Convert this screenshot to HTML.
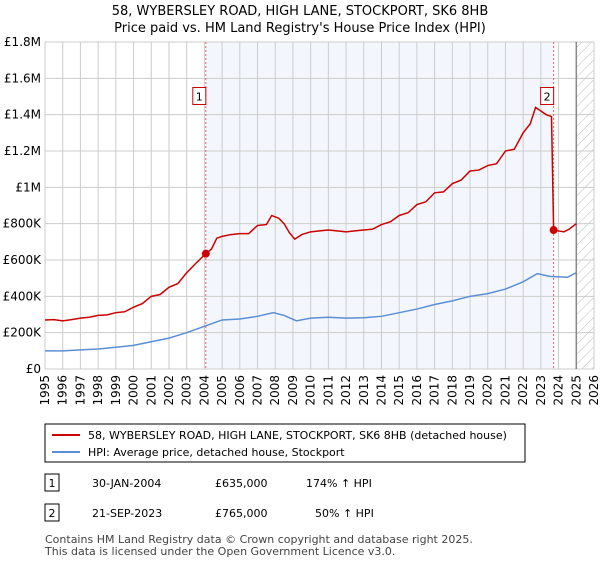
<!DOCTYPE html>
<html><head><meta charset="utf-8"><style>
body{margin:0;background:#fff;font-family:"Liberation Sans","DejaVu Sans",sans-serif;}
svg text{font-family:"DejaVu Sans","Liberation Sans",sans-serif;}
</style></head><body>
<svg width="600" height="560" xmlns="http://www.w3.org/2000/svg">
<defs><pattern id="hatch" width="7" height="7" patternUnits="userSpaceOnUse" patternTransform="rotate(45)"><line x1="0" y1="0" x2="0" y2="7" stroke="#bbb" stroke-width="1"/></pattern></defs>
<text x="300" y="15" text-anchor="middle" font-size="13">58, WYBERSLEY ROAD, HIGH LANE, STOCKPORT, SK6 8HB</text>
<text x="300" y="32" text-anchor="middle" font-size="13">Price paid vs. HM Land Registry's House Price Index (HPI)</text>
<g id="plot"></g>
<g id="legend">
<rect x="45" y="424" width="480" height="38" fill="#fff" stroke="#000" stroke-width="1"/>
<line x1="52" y1="435" x2="80" y2="435" stroke="#cc0000" stroke-width="2"/>
<text x="88" y="439" font-size="11">58, WYBERSLEY ROAD, HIGH LANE, STOCKPORT, SK6 8HB (detached house)</text>
<line x1="52" y1="452" x2="80" y2="452" stroke="#5a8fd6" stroke-width="2"/>
<text x="88" y="456" font-size="11">HPI: Average price, detached house, Stockport</text>
</g>
<g font-size="11">
<rect x="45" y="474" width="14" height="17" fill="#fff" stroke="#000"/><text x="52" y="487" text-anchor="middle">1</text>
<text x="92" y="487">30-JAN-2004</text><text x="215" y="487">£635,000</text><text x="306" y="487">174% ↑ HPI</text>
<rect x="45" y="504" width="14" height="17" fill="#fff" stroke="#000"/><text x="52" y="517" text-anchor="middle">2</text>
<text x="92" y="517">21-SEP-2023</text><text x="215" y="517">£765,000</text><text x="315" y="517">50% ↑ HPI</text>
</g>
<text x="45" y="543" font-size="11" fill="#444">Contains HM Land Registry data © Crown copyright and database right 2025.</text>
<text x="45" y="555" font-size="11" fill="#444">This data is licensed under the Open Government Licence v3.0.</text>
</svg>
<script>
const yTicks=[0,200000,400000,600000,800000,1000000,1200000,1400000,1600000,1800000];
const yTickLabels=["£0","£200K","£400K","£600K","£800K","£1M","£1.2M","£1.4M","£1.6M","£1.8M"];
const xYears=[1995,1996,1997,1998,1999,2000,2001,2002,2003,2004,2005,2006,2007,2008,2009,2010,2011,2012,2013,2014,2015,2016,2017,2018,2019,2020,2021,2022,2023,2024,2025,2026];
const redT=[1995,1995.5,1996,1996.5,1997,1997.5,1998,1998.5,1999,1999.5,2000,2000.5,2001,2001.5,2002,2002.5,2003,2003.5,2004.08,2004.4,2004.7,2005,2005.5,2006,2006.5,2007,2007.5,2007.8,2008.2,2008.5,2008.8,2009.1,2009.5,2010,2010.5,2011,2011.5,2012,2012.5,2013,2013.5,2014,2014.5,2015,2015.5,2016,2016.5,2017,2017.5,2018,2018.5,2019,2019.5,2020,2020.5,2021,2021.5,2022,2022.4,2022.7,2023,2023.3,2023.6,2023.72,2024,2024.3,2024.6,2025];
const redV=[270,272,265,272,280,285,295,298,310,315,340,360,400,410,450,470,530,580,635,660,720,730,740,745,745,790,795,845,830,800,750,715,740,755,760,765,760,755,760,765,770,795,810,845,860,905,920,970,975,1020,1040,1090,1095,1120,1130,1200,1210,1300,1350,1440,1420,1400,1390,765,760,755,770,800];
const blueT=[1995,1996,1997,1998,1999,2000,2001,2002,2003,2004,2005,2006,2007,2007.9,2008.5,2009.2,2010,2011,2012,2013,2014,2015,2016,2017,2018,2019,2020,2021,2022,2022.8,2023.5,2024.5,2025];
const blueV=[100,100,105,110,120,130,150,170,200,235,270,275,290,310,295,265,280,285,280,282,290,310,330,355,375,400,415,440,480,525,510,505,530];
const sales=[{t:2004.08,v:635,label:"1"},{t:2023.72,v:765,label:"2"}];
const X0=45,X1=594,Y0=369,Y1=42;
const xs=t=>X0+(t-1995)/(2026-1995)*(X1-X0);
const ys=v=>Y0-v/1800000*(Y0-Y1);
const NS="http://www.w3.org/2000/svg";
const g=document.getElementById('plot');
function mk(tag,attrs){const e=document.createElementNS(NS,tag);for(const k in attrs)e.setAttribute(k,attrs[k]);g.appendChild(e);return e;}
let e;
e=mk('rect',{x:xs(2004.08),y:Y1,width:xs(2023.72)-xs(2004.08),height:Y0-Y1,fill:'#eef3fc',opacity:0.7});


e=mk('rect',{x:xs(2025),y:Y1,width:X1-xs(2025),height:Y0-Y1,fill:'url(#hatch)'});


yTicks.forEach((v,i)=>{
 e=mk('line',{x1:X0,x2:X1,y1:ys(v),y2:ys(v),stroke:'#ccc'});
 
 
 e=mk('text',{x:X0-4,y:ys(v)+4,'text-anchor':'end','font-size':12});e.textContent=yTickLabels[i];
 
 
});
xYears.forEach(y=>{
 e=mk('line',{x1:xs(y),x2:xs(y),y1:Y1,y2:Y0,stroke:'#ccc'});
 
 
 e=mk('text',{x:0,y:0,'font-size':12,'text-anchor':'end',transform:`translate(${xs(y)+4},${Y0+6}) rotate(-90)`});e.textContent=y;
 
 
});
e=mk('line',{x1:xs(2025),x2:xs(2025),y1:Y1,y2:Y0,stroke:'#888','stroke-width':1.5});


sales.forEach(s=>{
 e=mk('line',{x1:xs(s.t),x2:xs(s.t),y1:Y1,y2:Y0,stroke:'#e06060','stroke-dasharray':'2,2'});
 
 
});
e=mk('polyline',{points:blueT.map((t,i)=>xs(t)+','+ys(blueV[i]*1000)).join(' '),fill:'none',stroke:'#5a8fd6','stroke-width':1.5});


e=mk('polyline',{points:redT.map((t,i)=>xs(t)+','+ys(redV[i]*1000)).join(' '),fill:'none',stroke:'#cc0000','stroke-width':1.5});


sales.forEach(s=>{
 e=mk('circle',{cx:xs(s.t),cy:ys(s.v*1000),r:4,fill:'#cc0000'});
 
 
 e=mk('rect',{x:xs(s.t)-13,y:ys(1500000)-9,width:13,height:17,fill:'#fff',stroke:'#cc0000'});
 
 
 e=mk('text',{x:xs(s.t)-6.5,y:ys(1500000)+4,'text-anchor':'middle','font-size':11});e.textContent=s.label;
 
 
});
</script>
</body></html>
